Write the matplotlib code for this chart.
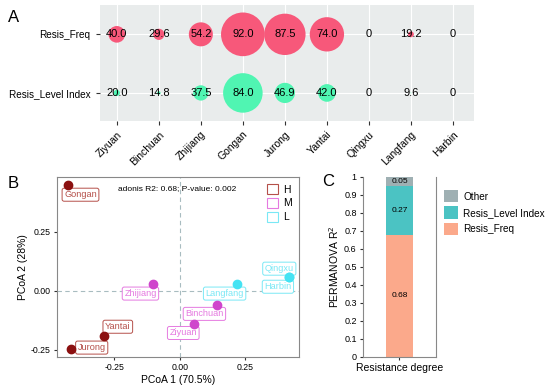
import numpy as np
import matplotlib.pyplot as plt
from matplotlib.patches import Patch

plt.rcParams['font.family'] = ['Liberation Sans', 'DejaVu Sans']

# ---- data ----
sites = ["Ziyuan", "Binchuan", "Zhijiang", "Gongan", "Jurong",
         "Yantai", "Qingxu", "Langfang", "Harbin"]
resis_freq = [40.0, 29.6, 54.2, 92.0, 87.5, 74.0, 0, 19.2, 0]
resis_level = [20.0, 14.8, 37.5, 84.0, 46.9, 42.0, 0, 9.6, 0]
rows = ["Resis_Level Index", "Resis_Freq"]

# PCoA coordinates
pcoa_sites = ["Gongan", "Jurong", "Yantai", "Zhijiang", "Ziyuan",
              "Binchuan", "Langfang", "Harbin", "Qingxu"]
pcoa1 = [-0.427, -0.416, -0.29, -0.103, 0.055, 0.141, 0.218, 0.416, 0.416]
pcoa2 = [0.449, -0.246, -0.19, 0.03, -0.14, -0.059, 0.03, 0.059, 0.059]
pcoa_group = ["H", "H", "H", "M", "M", "M", "L", "L", "L"]

# PERMANOVA
perm_names = ["Resis_Freq", "Resis_Level Index", "Other"]
perm_r2 = [0.68, 0.27, 0.05]

# ---- figure ----
fig = plt.figure(figsize=(5.5, 3.88), dpi=100)

# Panel A: bubble chart
axA = fig.add_axes([0.1818, 0.688, 0.68, 0.299])
axA.set_facecolor('#e9ecec')
x = np.arange(len(sites))


def bubble_size(v):
    # diameter in px grows with value, converted to points^2
    v = np.array(v)
    d = np.clip(0.52 * (v - 8), 0, None) * 0.72
    d[v == 0] = 0
    return d ** 2


axA.scatter(x, np.ones(len(x)), s=bubble_size(resis_freq), color='#f7587a',
            linewidths=0, zorder=3)
axA.scatter(x, np.zeros(len(x)), s=bubble_size(resis_level), color='#50f5b2',
            linewidths=0, zorder=3)
for i in range(len(sites)):
    t1 = "0" if resis_freq[i] == 0 else f"{resis_freq[i]:.1f}"
    t2 = "0" if resis_level[i] == 0 else f"{resis_level[i]:.1f}"
    axA.text(i, 1, t1, ha='center', va='center', fontsize=8, zorder=4)
    axA.text(i, 0, t2, ha='center', va='center', fontsize=8, zorder=4)

axA.set_xlim(-0.4, 8.5)
axA.set_ylim(-0.48, 1.5)
axA.set_xticks(x)
axA.set_xticklabels(sites, rotation=45, ha='right', rotation_mode='anchor',
                    fontsize=7.5)
axA.set_yticks([0, 1])
axA.set_yticklabels(rows, fontsize=7.2)
axA.grid(color='white', linewidth=0.8)
axA.set_axisbelow(True)
for s in axA.spines.values():
    s.set_visible(False)
axA.tick_params(length=3, color='#333333', pad=3)
axA.tick_params(axis='y', pad=4)

# Panel B: PCoA
axB = fig.add_axes([0.1036, 0.0799, 0.44, 0.464])
colors = {"H": "#8b1010", "M": "#cf45cc", "L": "#45e3f3"}
edge_cols = {"H": "#b5504a", "M": "#e57ae0", "L": "#7ae8f5"}
axB.axvline(0, color='#a8bcc0', ls=(0, (4, 3)), lw=0.8, zorder=1)
axB.axhline(0, color='#a8bcc0', ls=(0, (4, 3)), lw=0.8, zorder=1)

label_off = {"Gongan": (9, -7), "Jurong": (15, 1), "Yantai": (10, 6.5),
             "Zhijiang": (-9, -7), "Ziyuan": (-8, -6.5), "Binchuan": (-9, -6.5),
             "Langfang": (-9, -7), "Harbin": (-8, -7), "Qingxu": (-7, 6)}
for name, px, py, g in zip(pcoa_sites, pcoa1, pcoa2, pcoa_group):
    axB.annotate(name, (px, py), xytext=label_off[name], textcoords='offset points',
                 ha='center', va='center', fontsize=6.6, color=edge_cols[g],
                 bbox=dict(boxstyle='round,pad=0.22', fc='white',
                           ec=edge_cols[g], lw=0.7), zorder=4)
for px, py, g in zip(pcoa1, pcoa2, pcoa_group):
    axB.plot(px, py, 'o', ms=6, color=colors[g], zorder=5, clip_on=False)

axB.text(-0.01, 0.432, "adonis R2: 0.68; P-value: 0.002", ha='center',
         va='center', fontsize=6)
axB.set_xlim(-0.469, 0.454)
axB.set_ylim(-0.28, 0.483)
axB.set_xticks([-0.25, 0, 0.25])
axB.set_xticklabels(["-0.25", "0.00", "0.25"])
axB.set_yticks([-0.25, 0, 0.25])
axB.set_yticklabels(["-0.25", "0.00", "0.25"])
axB.tick_params(labelsize=6.3, length=2.5, color='#333333', pad=2)
axB.set_xlabel("PCoA 1 (70.5%)", fontsize=7.5, labelpad=2)
axB.set_ylabel("PCoA 2 (28%)", fontsize=7.5, labelpad=2)
for s in axB.spines.values():
    s.set_color('#888888')
handles = [Patch(fc='white', ec=edge_cols[g], lw=0.8, label=g) for g in ["H", "M", "L"]]
axB.legend(handles=handles, loc='upper right', frameon=False, fontsize=7.5,
           handlelength=1.0, handleheight=1.1, handletextpad=0.5,
           labelspacing=0.3, borderaxespad=0.3)

# Panel C: PERMANOVA stacked bar
axC = fig.add_axes([0.66, 0.0799, 0.1327, 0.464])
bar_cols = ["#fba98b", "#4bc3c3", "#9fb0b3"]
bottom = 0
for name, v, c in zip(perm_names, perm_r2, bar_cols):
    axC.bar(1, v, bottom=bottom, width=0.45, color=c, label=name)
    axC.text(1, bottom + v / 2, f"{v:.2f}", ha='center', va='center', fontsize=6)
    bottom += v
axC.set_xlim(0.4, 1.6)
axC.set_ylim(0, 1)
axC.set_yticks(np.arange(0, 1.01, 0.1))
axC.set_yticklabels(["0"] + [f"{t:.1f}" for t in np.arange(0.1, 0.95, 0.1)] + ["1"])
axC.set_xticks([1])
axC.set_xticklabels(["Resistance degree"], fontsize=7.5)
axC.tick_params(axis='y', labelsize=6.5)
axC.tick_params(length=2.5, color='#333333', pad=2)
axC.set_ylabel("PERMANOVA R$^2$", fontsize=7.5, labelpad=2)
for s in axC.spines.values():
    s.set_color('#888888')
axC.spines['top'].set_visible(False)
h, l = axC.get_legend_handles_labels()
axC.legend(h[::-1], l[::-1], loc='upper left', bbox_to_anchor=(1.03, 0.96),
           frameon=False, fontsize=7.2, handlelength=1.4, handleheight=1.5,
           handletextpad=0.5, labelspacing=0.4, borderaxespad=0.2)

fig.text(8 / 550, 1 - 17 / 388, "A", fontsize=12, va='center')
fig.text(8 / 550, 1 - 183 / 388, "B", fontsize=12, va='center')
fig.text(322 / 550, 1 - 182 / 388, "C", fontsize=12, va='center')

fig.savefig("out.png", dpi=100)
